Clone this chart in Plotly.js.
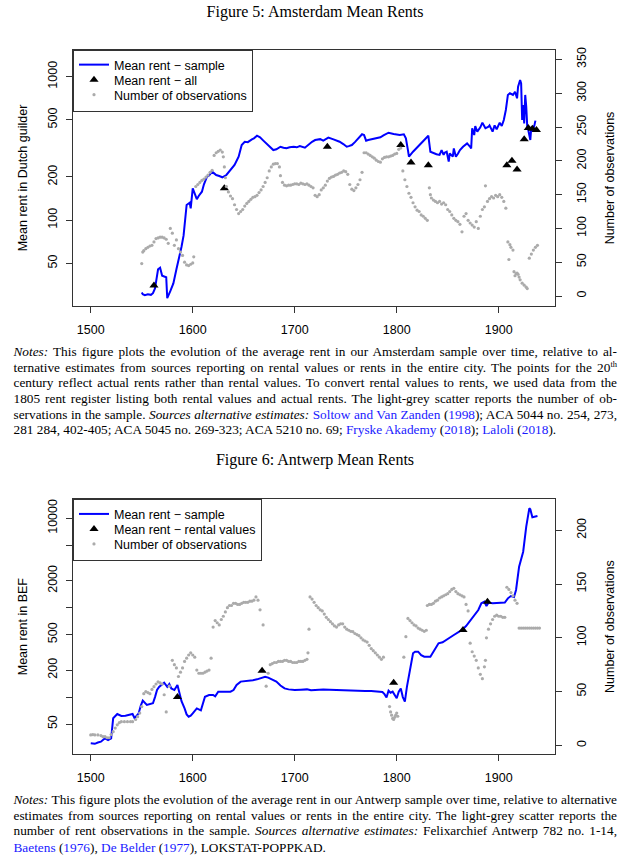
<!DOCTYPE html>
<html><head><meta charset="utf-8">
<script src="https://cdn.plot.ly/plotly-3.0.1.min.js"></script>
<style>
html,body{margin:0;padding:0;background:#fff;width:640px;height:866px;overflow:hidden;}
#chart{position:absolute;left:0;top:0;width:640px;height:866px;}
.t{position:absolute;font-family:"Liberation Serif","Times New Roman",serif;color:#000;white-space:nowrap;}
.title{font-size:16px;left:0;width:630px;text-align:center;line-height:18px;}
.ln{font-size:13.3px;left:13.5px;line-height:16px;}
.lk{color:#1a1aff;}
.sup{font-size:8.5px;position:relative;top:-5px;}
</style></head><body>
<div id="chart"></div>
<div class="t title" style="top:3px">Figure 5: Amsterdam Mean Rents</div>
<div class="t ln just" style="top:344px"><span><i>Notes:</i> This figure plots the evolution of the average rent in our Amsterdam sample over time, relative to al-</span></div>
<div class="t ln just" style="top:359.7px"><span>ternative estimates from sources reporting on rental values or rents in the entire city. The points for the 20<span class="sup">th</span></span></div>
<div class="t ln just" style="top:375.3px"><span>century reflect actual rents rather than rental values. To convert rental values to rents, we used data from the</span></div>
<div class="t ln just" style="top:391px"><span>1805 rent register listing both rental values and actual rents. The light-grey scatter reports the number of ob-</span></div>
<div class="t ln just" style="top:406.6px"><span>servations in the sample. <i>Sources alternative estimates:</i> <span class="lk">Soltow and Van Zanden</span> (<span class="lk">1998</span>); ACA 5044 no. 254, 273,</span></div>
<div class="t ln" style="top:422.3px"><span>281 284, 402-405; ACA 5045 no. 269-323; ACA 5210 no. 69; <span class="lk">Fryske Akademy</span> (<span class="lk">2018</span>); <span class="lk">Laloli</span> (<span class="lk">2018</span>).</span></div>
<div class="t title" style="top:451px">Figure 6: Antwerp Mean Rents</div>
<div class="t ln just" style="top:792px"><span><i>Notes:</i> This figure plots the evolution of the average rent in our Antwerp sample over time, relative to alternative</span></div>
<div class="t ln just" style="top:807.8px"><span>estimates from sources reporting on rental values or rents in the entire city. The light-grey scatter reports the</span></div>
<div class="t ln just" style="top:823.4px"><span>number of rent observations in the sample. <i>Sources alternative estimates:</i> Felixarchief Antwerp 782 no. 1-14,</span></div>
<div class="t ln" style="top:839.5px"><span><span class="lk">Baetens</span> (<span class="lk">1976</span>), <span class="lk">De Belder</span> (<span class="lk">1977</span>), LOKSTAT-POPPKAD.</span></div>
<script>
// ---------- Amsterdam ----------
const amsSampleYear = [1550,1551,1553,1556,1559,1561,1563,1565,1566,1568,1570,1574,1575,1578,1581,1584,1587,1589,1591,1592,1594,1597,1598,1600,1602,1604,1606,1609,1611,1614,1616,1619,1621,1623,1626,1629,1633,1636,1638,1641,1645,1648,1651,1654,1658,1660,1663,1666,1669,1672,1676,1679,1682,1686,1689,1692,1695,1699,1702,1705,1710,1713,1717,1720,1725,1728,1733,1738,1741,1744,1748,1751,1753,1756,1759,1762,1766,1768,1770,1772,1776,1780,1784,1787,1792,1797,1800,1803,1807,1809,1811,1812,1816,1819,1823,1826,1829,1831,1833,1836,1839,1842,1844,1846,1847,1849,1851,1852,1855,1856,1858,1860,1862,1865,1869,1872,1873,1874,1876,1877,1879,1882,1884,1887,1890,1891,1894,1896,1898,1901,1903,1905,1907,1909,1911,1914,1916,1918,1919,1921,1922,1923,1924,1925,1926,1927,1928,1929,1931,1932,1933,1935,1936,1937,1938];
const amsSampleRent = [31.3,30.5,30,30.5,30.2,31,33.5,43.7,45.5,46.7,41,40,28.6,32,36.3,45.5,55,65.3,78,90,127.7,132.5,121,166.8,150,140,148,158,178,200.9,205,217.8,212,206.5,203,199,206.5,218,230,242.5,277,334,352,350,366,372,388,378,360,343,322,308,312,325,320,317,322,325,322,329,320,335,352,362,367,358,376,366,360,352,338,325,328,334,350,372,397,392,358,362,366,372,378,390,407,399,396,392,397,372,308,277,300,316,334,352,372,388,300,292,288,285,308,285,295,300,256,292,277,316,277,290,308,325,343,325,316,437,392,453,414,444,478,437,448,458,414,458,430,478,453,499,586,746,766,746,786,707,852,948,899,499,635,473,746,618,448,425,362,448,414,458,494];
const amsAllYear = [1562,1631,1732,1804,1814,1831,1908,1913,1918,1925,1929,1933,1937];
const amsAllRent = [35,167,325,334,252,241,241,260,226,366,439,434,425];
const amsObsYear = [1550,1551,1552,1554,1556,1558,1560,1562,1564,1566,1568,1570,1572,1574,1576,1578,1580,1582,1584,1586,1588,1590,1592,1594,1596,1598,1600,1601,1603,1605,1607,1609,1611,1613,1615,1617,1619,1621,1623,1625,1627,1629,1630,1631,1632,1633,1635,1637,1639,1641,1643,1645,1647,1649,1651,1653,1655,1657,1659,1661,1663,1665,1667,1669,1671,1673,1675,1677,1679,1681,1683,1685,1686,1688,1690,1692,1694,1696,1698,1700,1702,1704,1706,1708,1710,1712,1714,1716,1718,1720,1722,1724,1726,1728,1730,1732,1734,1736,1738,1740,1742,1744,1746,1748,1750,1752,1754,1756,1758,1760,1762,1764,1766,1768,1770,1772,1774,1776,1778,1780,1782,1784,1786,1788,1790,1792,1794,1796,1798,1800,1802,1804,1806,1808,1810,1812,1814,1816,1818,1820,1822,1824,1826,1828,1830,1832,1833,1834,1836,1838,1840,1842,1844,1846,1848,1850,1852,1854,1856,1858,1860,1862,1864,1866,1868,1870,1872,1874,1876,1878,1880,1882,1884,1886,1887,1889,1891,1893,1895,1897,1899,1901,1903,1905,1907,1909,1910,1911,1912,1914,1915,1916,1917,1918,1919,1920,1921,1923,1925,1927,1928,1930,1932,1934,1936,1938];
const amsObs = [48,65,67,70,72,74,75,80,85,86,87,87,86,84,78,100,93,75,83,70,65,60,50,46,45,47,49,58,162,165,168,171,173,176,179,183,186,208,212,214,216,213,206,191,175,162,154,148,144,135,128,122,125,128,133,137,140,143,146,147,149,153,157,162,168,175,185,191,195,196,196,191,178,168,164,163,164,164,165,166,166,165,167,166,165,166,164,162,160,149,147,150,157,160,164,170,174,176,177,179,180,182,183,185,184,180,165,158,156,160,165,172,183,212,212,210,208,206,204,201,199,198,203,205,206,206,207,208,210,211,217,219,185,172,162,152,146,138,132,127,125,120,118,115,112,160,150,145,142,140,138,140,136,138,135,128,125,120,115,112,110,106,95,118,122,112,108,105,102,110,100,118,128,132,163,140,144,147,145,149,147,150,146,140,130,80,54,76,72,68,36,30,33,34,32,28,24,19,16,13,11,56,62,68,72,75];
const amsRentTicks = [50,100,200,500,1000];
const amsObsTicks = [0,50,100,150,200,250,300,350];

// ---------- Antwerp ----------
const antSampleYear = [1500,1504,1507,1510,1514,1517,1520,1522,1526,1530,1534,1537,1541,1543,1547,1549,1551,1555,1558,1561,1563,1565,1567,1569,1572,1575,1577,1579,1582,1585,1587,1589,1592,1594,1596,1598,1600,1602,1604,1608,1610,1612,1616,1620,1622,1625,1630,1637,1640,1643,1647,1651,1655,1659,1663,1668,1671,1674,1678,1682,1686,1690,1694,1700,1706,1712,1716,1720,1724,1728,1734,1740,1745,1750,1757,1763,1769,1775,1780,1784,1786,1788,1790,1792,1794,1796,1798,1800,1802,1804,1806,1808,1810,1812,1814,1816,1818,1821,1824,1827,1833,1836,1839,1841,1845,1849,1853,1856,1860,1864,1868,1872,1875,1880,1883,1886,1888,1890,1894,1898,1902,1906,1909,1912,1915,1917,1920,1924,1927,1930,1931,1933,1935,1938];
const antSampleRent = [30.4,30,31,31.7,34.6,33,34.6,58,64.7,61.5,62,63,64.7,58,65.8,80,91.2,81.6,84,85.3,100,120,130,136.6,145,130.6,140,125,120,136.6,109,90,74.6,64,60.3,62,65.8,70,74.6,71,85,101,105.5,105.5,102,115,115,115,120,136.6,149,150,151,154,158,164,169,165,158,149,135,125,122,120,121,122,119,120,120,122,121,120,120,119,118,118,117,117,116,115,114,108,99,118,112,115,106,97,115,125,100,89,130,169,240,309,322,322,295,283,283,320,370,400,410,435,470,495,525,564,624,720,794,942,1120,1167,1045,1140,1120,1120,1120,1140,1273,1352,1320,1578,2877,4230,8060,12930,12600,10260,10400,10610];
const antRentalYear = [1585,1668,1797,1865,1889];
const antRentalRent = [100,197,145,564,1167];
const antObsYear = [1500,1502,1504,1507,1510,1512,1514,1516,1518,1520,1522,1524,1526,1528,1530,1533,1536,1539,1541,1544,1546,1548,1550,1552,1554,1556,1558,1560,1562,1564,1566,1568,1570,1572,1574,1577,1580,1582,1584,1586,1588,1590,1592,1594,1596,1598,1600,1602,1604,1606,1608,1610,1612,1614,1616,1618,1620,1622,1624,1626,1628,1630,1632,1634,1636,1638,1640,1642,1644,1646,1648,1650,1652,1654,1656,1658,1660,1662,1664,1666,1669,1672,1674,1676,1678,1680,1682,1684,1686,1688,1690,1692,1694,1696,1698,1700,1702,1704,1706,1708,1710,1712,1713,1714,1715,1717,1719,1721,1723,1725,1727,1729,1731,1733,1735,1737,1739,1741,1743,1745,1747,1749,1751,1753,1755,1757,1759,1761,1763,1765,1767,1769,1771,1773,1775,1777,1779,1781,1783,1785,1787,1793,1794,1795,1796,1797,1798,1799,1800,1801,1807,1809,1811,1813,1815,1817,1819,1821,1823,1825,1827,1829,1830,1832,1834,1836,1838,1840,1842,1844,1846,1848,1850,1852,1854,1856,1858,1860,1862,1864,1866,1868,1870,1872,1874,1876,1878,1880,1882,1884,1886,1887,1888,1890,1892,1894,1896,1898,1900,1902,1904,1906,1908,1910,1912,1914,1916,1918,1920,1922,1924,1926,1928,1930,1932,1934,1936,1938,1940];
const antObs = [9.6,10,9.6,9.6,9,8,8,7,7,10,12.7,16,19,21,22,22,22,22,22,24,26.6,30,36,48,50,49,48,52,54.5,57,59,58,57,47,31,55,79,75,72,64,68,72,78,81,84,86,84,82,70,67,67,67,68,69,70,81,110,116,114,112,117,120,124,128,130,130,132,132,131,131,132,133,133,133,134,134,135,138,135,126,112,55,67,75,76,77,77,78,78,78,79,79,78,78,77,77,77,78,78,78,79,80,86,108,138,136,133,130,128,126,125,122,119,117,115,113,111,110,112,113,113,110,108,107,106,105.7,104,103,102,100,98,97,96,93,90,88,86,84,82,80,82,36,31,28,25,24,26,28,30,27,82,101,118,116,114,112,111,109,108,107,106,107,130,131,131,132,134,135,137,138,139,140,141,143,145,146,143,141,140,139,138,131,125,95,87,83,79,72,66,62,73,79,100,108,113,117,120,121,120,120,119,119,147,145,142,139,135,132,109,109,109,109,109,109,109,109,109,109,109];
const antRentTicks = [50,100,200,500,1000,2000,5000,10000];
const antRentTickText = ['50','','200','500','','2000','','10000'];
const antObsTicks = [0,50,100,150,200];

const yearTicks = [1500,1600,1700,1800,1900];

const blue = '#0000ff';
const grey = '#ababab';
const lineCol = '#333333';
const sans = '"Liberation Sans", Arial, Helvetica, sans-serif';

const traces = [
  {x: amsSampleYear, y: amsSampleRent, type:'scatter', mode:'lines', name:'Mean rent \u2212 sample',
   line:{color:blue, width:2}, xaxis:'x', yaxis:'y', legend:'legend', legendrank:1},
  {x: amsAllYear, y: amsAllRent, type:'scatter', mode:'markers', name:'Mean rent \u2212 all',
   marker:{symbol:'triangle-up', size:8, color:'#000'}, xaxis:'x', yaxis:'y', legend:'legend', legendrank:2},
  {x: amsObsYear, y: amsObs, type:'scatter', mode:'markers', name:'Number of observations',
   marker:{size:3.2, color:grey}, xaxis:'x', yaxis:'y2', legend:'legend', legendrank:3},
  {x: antSampleYear, y: antSampleRent, type:'scatter', mode:'lines', name:'Mean rent \u2212 sample',
   line:{color:blue, width:2}, xaxis:'x2', yaxis:'y3', legend:'legend2', legendrank:1},
  {x: antRentalYear, y: antRentalRent, type:'scatter', mode:'markers', name:'Mean rent \u2212 rental values',
   marker:{symbol:'triangle-up', size:8, color:'#000'}, xaxis:'x2', yaxis:'y3', legend:'legend2', legendrank:2},
  {x: antObsYear, y: antObs, type:'scatter', mode:'markers', name:'Number of observations',
   marker:{size:3.2, color:grey}, xaxis:'x2', yaxis:'y4', legend:'legend2', legendrank:3}
];

function xax(anchor){
  return {domain:[0,1], anchor:anchor, range:[1482.6,1955.2], tickmode:'array', tickvals:yearTicks,
    ticks:'outside', ticklen:6, tickcolor:lineCol, showline:true, mirror:true, linecolor:lineCol, linewidth:1,
    showgrid:false, zeroline:false, ticklabelstandoff:6, tickfont:{size:12.5, family:sans, color:'#000'}};
}
function ylog(dom, rng, vals, text, title){
  return {domain:dom, type:'log', range:rng, tickmode:'array', tickvals:vals, ticktext:text, tickangle:-90,
    ticks:'outside', ticklen:6, tickcolor:lineCol, showline:true, mirror:true, linecolor:lineCol, linewidth:1,
    showgrid:false, zeroline:false, ticklabelstandoff:4, tickfont:{size:12.5, family:sans, color:'#000'},
    title:{text:title, font:{size:12.5, family:sans, color:'#000'}, standoff:15}};
}
function yobs(over, anchor, rng, vals){
  return {overlaying:over, anchor:anchor, side:'right', range:rng, tickmode:'array', tickvals:vals, tickangle:-90,
    ticks:'outside', ticklen:6, tickcolor:lineCol, showline:false, showgrid:false, zeroline:false,
    ticklabelstandoff:9, tickfont:{size:12.5, family:sans, color:'#000'},
    title:{text:'Number of observations', font:{size:12.5, family:sans, color:'#000'}, standoff:17}};
}
function leg(ytop){
  return {x:0, y:ytop, xanchor:'left', yanchor:'top', bgcolor:'#fff', bordercolor:lineCol, borderwidth:1,
    font:{size:12.5, family:sans, color:'#000'}, tracegroupgap:0, itemwidth:30};
}

const layout = {
  width:640, height:866, margin:{l:73, r:85, t:50, b:112, pad:0},
  paper_bgcolor:'#fff', plot_bgcolor:'rgba(0,0,0,0)', showlegend:true,
  font:{family:sans, size:12.5, color:'#000'},
  xaxis: xax('y'),
  yaxis: ylog([0.63636,1], [1.402,3.186], amsRentTicks, amsRentTicks.map(String), 'Mean rent in Dutch guilder'),
  yaxis2: yobs('y','x',[-14.8,364], amsObsTicks),
  xaxis2: xax('y3'),
  yaxis3: ylog([0,0.36179], [1.3635,4.2125], antRentTicks, antRentTickText, 'Mean rent in BEF'),
  yaxis4: yobs('y3','x2',[-8.1,228.8], antObsTicks),
  legend: leg(1),
  legend2: leg(0.36179)
};

function tightenLegends(gd){
  const groups = new Set();
  gd.querySelectorAll('g.traces').forEach(t=>{
    // climb to the legend root (the g whose parent is the infolayer)
    let g = t.parentNode;
    while(g && g.parentNode && !(g.parentNode.classList && g.parentNode.classList.contains('infolayer'))) g = g.parentNode;
    if(g) groups.add(g);
  });
  groups.forEach(lg=>{
    const tr = Array.from(lg.querySelectorAll('g.traces'));
    if(tr.length<2) return;
    const items = tr.map(t=>{
      const m = /translate\(\s*([-\d.e]+)[ ,]+([-\d.e]+)\s*\)/.exec(t.getAttribute('transform')||'');
      return {el:t, x: m?parseFloat(m[1]):0, y: m?parseFloat(m[2]):0};
    }).sort((a,b)=>a.y-b.y);
    const step = 15, y0 = items[0].y - 1;
    const lastOld = items[items.length-1].y;
    items.forEach((it,i)=>it.el.setAttribute('transform','translate('+it.x+','+(y0+i*step)+')'));
    const lastNew = y0+(items.length-1)*step;
    const bg = lg.querySelector('rect.bg');
    if(bg){
      const h = parseFloat(bg.getAttribute('height'));
      bg.setAttribute('height', h - (lastOld - lastNew) + 1);
    }
    const sb = lg.querySelector('g.scrollbox');
    if(sb) sb.removeAttribute('clip-path');
  });
}

Plotly.newPlot('chart', traces, layout, {displayModeBar:false, staticPlot:true}).then(tightenLegends);

function justify(){
  const target = 603.5;
  document.querySelectorAll('.just').forEach(el=>{
    const span = el.firstElementChild;
    span.style.wordSpacing = '0px';
    const w = span.getBoundingClientRect().width;
    const n = (span.textContent.match(/ /g)||[]).length;
    if(n>0) span.style.wordSpacing = ((target - w)/n) + 'px';
  });
}
justify();
if(document.fonts && document.fonts.ready){document.fonts.ready.then(justify);}
</script>
</body></html>
